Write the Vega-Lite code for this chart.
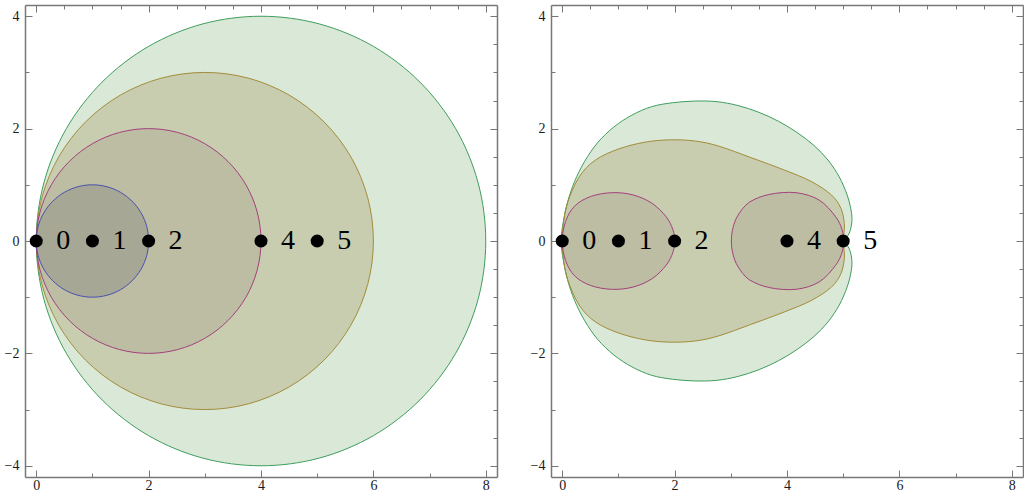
{
  "$schema": "https://vega.github.io/schema/vega-lite/v6.json",
  "padding": {"left": 4, "top": 4, "right": 0, "bottom": 0},
  "autosize": {"type": "pad"},
  "spacing": 32,
  "datasets": {
    "circles": [
      {"s":"c1","i":0,"x":2,"y":0},{"s":"c1","i":1,"x":1.966,"y":0.259},{"s":"c1","i":2,"x":1.866,"y":0.5},{"s":"c1","i":3,"x":1.707,"y":0.707},{"s":"c1","i":4,"x":1.5,"y":0.866},{"s":"c1","i":5,"x":1.259,"y":0.966},{"s":"c1","i":6,"x":1,"y":1},{"s":"c1","i":7,"x":0.741,"y":0.966},{"s":"c1","i":8,"x":0.5,"y":0.866},{"s":"c1","i":9,"x":0.293,"y":0.707},{"s":"c1","i":10,"x":0.134,"y":0.5},{"s":"c1","i":11,"x":0.034,"y":0.259},{"s":"c1","i":12,"x":0,"y":0},{"s":"c1","i":13,"x":0.034,"y":-0.259},{"s":"c1","i":14,"x":0.134,"y":-0.5},{"s":"c1","i":15,"x":0.293,"y":-0.707},{"s":"c1","i":16,"x":0.5,"y":-0.866},{"s":"c1","i":17,"x":0.741,"y":-0.966},{"s":"c1","i":18,"x":1,"y":-1},{"s":"c1","i":19,"x":1.259,"y":-0.966},{"s":"c1","i":20,"x":1.5,"y":-0.866},{"s":"c1","i":21,"x":1.707,"y":-0.707},{"s":"c1","i":22,"x":1.866,"y":-0.5},{"s":"c1","i":23,"x":1.966,"y":-0.259},
      {"s":"c2","i":0,"x":4,"y":0},{"s":"c2","i":1,"x":3.932,"y":0.518},{"s":"c2","i":2,"x":3.732,"y":1},{"s":"c2","i":3,"x":3.414,"y":1.414},{"s":"c2","i":4,"x":3,"y":1.732},{"s":"c2","i":5,"x":2.518,"y":1.932},{"s":"c2","i":6,"x":2,"y":2},{"s":"c2","i":7,"x":1.482,"y":1.932},{"s":"c2","i":8,"x":1,"y":1.732},{"s":"c2","i":9,"x":0.586,"y":1.414},{"s":"c2","i":10,"x":0.268,"y":1},{"s":"c2","i":11,"x":0.068,"y":0.518},{"s":"c2","i":12,"x":0,"y":0},{"s":"c2","i":13,"x":0.068,"y":-0.518},{"s":"c2","i":14,"x":0.268,"y":-1},{"s":"c2","i":15,"x":0.586,"y":-1.414},{"s":"c2","i":16,"x":1,"y":-1.732},{"s":"c2","i":17,"x":1.482,"y":-1.932},{"s":"c2","i":18,"x":2,"y":-2},{"s":"c2","i":19,"x":2.518,"y":-1.932},{"s":"c2","i":20,"x":3,"y":-1.732},{"s":"c2","i":21,"x":3.414,"y":-1.414},{"s":"c2","i":22,"x":3.732,"y":-1},{"s":"c2","i":23,"x":3.932,"y":-0.518},
      {"s":"c3","i":0,"x":6,"y":0},{"s":"c3","i":1,"x":5.898,"y":0.776},{"s":"c3","i":2,"x":5.598,"y":1.5},{"s":"c3","i":3,"x":5.121,"y":2.121},{"s":"c3","i":4,"x":4.5,"y":2.598},{"s":"c3","i":5,"x":3.776,"y":2.898},{"s":"c3","i":6,"x":3,"y":3},{"s":"c3","i":7,"x":2.224,"y":2.898},{"s":"c3","i":8,"x":1.5,"y":2.598},{"s":"c3","i":9,"x":0.879,"y":2.121},{"s":"c3","i":10,"x":0.402,"y":1.5},{"s":"c3","i":11,"x":0.102,"y":0.776},{"s":"c3","i":12,"x":0,"y":0},{"s":"c3","i":13,"x":0.102,"y":-0.776},{"s":"c3","i":14,"x":0.402,"y":-1.5},{"s":"c3","i":15,"x":0.879,"y":-2.121},{"s":"c3","i":16,"x":1.5,"y":-2.598},{"s":"c3","i":17,"x":2.224,"y":-2.898},{"s":"c3","i":18,"x":3,"y":-3},{"s":"c3","i":19,"x":3.776,"y":-2.898},{"s":"c3","i":20,"x":4.5,"y":-2.598},{"s":"c3","i":21,"x":5.121,"y":-2.121},{"s":"c3","i":22,"x":5.598,"y":-1.5},{"s":"c3","i":23,"x":5.898,"y":-0.776},
      {"s":"c4","i":0,"x":8,"y":0},{"s":"c4","i":1,"x":7.864,"y":1.035},{"s":"c4","i":2,"x":7.464,"y":2},{"s":"c4","i":3,"x":6.828,"y":2.828},{"s":"c4","i":4,"x":6,"y":3.464},{"s":"c4","i":5,"x":5.035,"y":3.864},{"s":"c4","i":6,"x":4,"y":4},{"s":"c4","i":7,"x":2.965,"y":3.864},{"s":"c4","i":8,"x":2,"y":3.464},{"s":"c4","i":9,"x":1.172,"y":2.828},{"s":"c4","i":10,"x":0.536,"y":2},{"s":"c4","i":11,"x":0.136,"y":1.035},{"s":"c4","i":12,"x":0,"y":0},{"s":"c4","i":13,"x":0.136,"y":-1.035},{"s":"c4","i":14,"x":0.536,"y":-2},{"s":"c4","i":15,"x":1.172,"y":-2.828},{"s":"c4","i":16,"x":2,"y":-3.464},{"s":"c4","i":17,"x":2.965,"y":-3.864},{"s":"c4","i":18,"x":4,"y":-4},{"s":"c4","i":19,"x":5.035,"y":-3.864},{"s":"c4","i":20,"x":6,"y":-3.464},{"s":"c4","i":21,"x":6.828,"y":-2.828},{"s":"c4","i":22,"x":7.464,"y":-2},{"s":"c4","i":23,"x":7.864,"y":-1.035}
    ],
    "shapes": [
      {"s":"g","i":0,"x":-0.02,"y":0},{"s":"g","i":1,"x":0.02,"y":0.35},{"s":"g","i":2,"x":0.1,"y":0.71},{"s":"g","i":3,"x":0.22,"y":1.06},{"s":"g","i":4,"x":0.4,"y":1.42},{"s":"g","i":5,"x":0.63,"y":1.75},{"s":"g","i":6,"x":0.92,"y":2.03},{"s":"g","i":7,"x":1.24,"y":2.24},{"s":"g","i":8,"x":1.59,"y":2.39},{"s":"g","i":9,"x":1.96,"y":2.46},{"s":"g","i":10,"x":2.35,"y":2.49},{"s":"g","i":11,"x":2.75,"y":2.48},{"s":"g","i":12,"x":3.13,"y":2.41},{"s":"g","i":13,"x":3.5,"y":2.29},{"s":"g","i":14,"x":3.85,"y":2.13},{"s":"g","i":15,"x":4.18,"y":1.93},{"s":"g","i":16,"x":4.48,"y":1.7},{"s":"g","i":17,"x":4.73,"y":1.44},{"s":"g","i":18,"x":4.93,"y":1.14},{"s":"g","i":19,"x":5.07,"y":0.82},{"s":"g","i":20,"x":5.14,"y":0.55},{"s":"g","i":21,"x":5.155,"y":0.35},{"s":"g","i":22,"x":5.12,"y":0.17},{"s":"g","i":23,"x":5.06,"y":0.06},{"s":"g","i":24,"x":5.02,"y":0},{"s":"g","i":25,"x":5.06,"y":-0.06},{"s":"g","i":26,"x":5.12,"y":-0.17},{"s":"g","i":27,"x":5.155,"y":-0.35},{"s":"g","i":28,"x":5.14,"y":-0.55},{"s":"g","i":29,"x":5.07,"y":-0.82},{"s":"g","i":30,"x":4.93,"y":-1.14},{"s":"g","i":31,"x":4.73,"y":-1.44},{"s":"g","i":32,"x":4.48,"y":-1.7},{"s":"g","i":33,"x":4.18,"y":-1.93},{"s":"g","i":34,"x":3.85,"y":-2.13},{"s":"g","i":35,"x":3.5,"y":-2.29},{"s":"g","i":36,"x":3.13,"y":-2.41},{"s":"g","i":37,"x":2.75,"y":-2.48},{"s":"g","i":38,"x":2.35,"y":-2.49},{"s":"g","i":39,"x":1.96,"y":-2.46},{"s":"g","i":40,"x":1.59,"y":-2.39},{"s":"g","i":41,"x":1.24,"y":-2.24},{"s":"g","i":42,"x":0.92,"y":-2.03},{"s":"g","i":43,"x":0.63,"y":-1.75},{"s":"g","i":44,"x":0.4,"y":-1.42},{"s":"g","i":45,"x":0.22,"y":-1.06},{"s":"g","i":46,"x":0.1,"y":-0.71},{"s":"g","i":47,"x":0.02,"y":-0.35},
      {"s":"o","i":0,"x":0,"y":0},{"s":"o","i":1,"x":0.02,"y":0.3},{"s":"o","i":2,"x":0.09,"y":0.67},{"s":"o","i":3,"x":0.3,"y":1.14},{"s":"o","i":4,"x":0.59,"y":1.44},{"s":"o","i":5,"x":1.01,"y":1.64},{"s":"o","i":6,"x":1.48,"y":1.76},{"s":"o","i":7,"x":1.92,"y":1.8},{"s":"o","i":8,"x":2.36,"y":1.78},{"s":"o","i":9,"x":2.78,"y":1.69},{"s":"o","i":10,"x":3.37,"y":1.48},{"s":"o","i":11,"x":3.96,"y":1.26},{"s":"o","i":12,"x":4.43,"y":1.06},{"s":"o","i":13,"x":4.79,"y":0.82},{"s":"o","i":14,"x":4.96,"y":0.58},{"s":"o","i":15,"x":5.02,"y":0.31},{"s":"o","i":16,"x":5.01,"y":0.1},{"s":"o","i":17,"x":5.0,"y":0},{"s":"o","i":18,"x":5.01,"y":-0.1},{"s":"o","i":19,"x":5.02,"y":-0.31},{"s":"o","i":20,"x":4.96,"y":-0.58},{"s":"o","i":21,"x":4.79,"y":-0.82},{"s":"o","i":22,"x":4.43,"y":-1.06},{"s":"o","i":23,"x":3.96,"y":-1.26},{"s":"o","i":24,"x":3.37,"y":-1.48},{"s":"o","i":25,"x":2.78,"y":-1.69},{"s":"o","i":26,"x":2.36,"y":-1.78},{"s":"o","i":27,"x":1.92,"y":-1.8},{"s":"o","i":28,"x":1.48,"y":-1.76},{"s":"o","i":29,"x":1.01,"y":-1.64},{"s":"o","i":30,"x":0.59,"y":-1.44},{"s":"o","i":31,"x":0.3,"y":-1.14},{"s":"o","i":32,"x":0.09,"y":-0.67},{"s":"o","i":33,"x":0.02,"y":-0.3},
      {"s":"pL","i":0,"x":0,"y":0},{"s":"pL","i":1,"x":0.06,"y":0.35},{"s":"pL","i":2,"x":0.22,"y":0.62},{"s":"pL","i":3,"x":0.5,"y":0.79},{"s":"pL","i":4,"x":0.88,"y":0.86},{"s":"pL","i":5,"x":1.26,"y":0.82},{"s":"pL","i":6,"x":1.6,"y":0.67},{"s":"pL","i":7,"x":1.85,"y":0.43},{"s":"pL","i":8,"x":1.97,"y":0.2},{"s":"pL","i":9,"x":2.0,"y":0},{"s":"pL","i":10,"x":1.97,"y":-0.2},{"s":"pL","i":11,"x":1.85,"y":-0.43},{"s":"pL","i":12,"x":1.6,"y":-0.67},{"s":"pL","i":13,"x":1.26,"y":-0.82},{"s":"pL","i":14,"x":0.88,"y":-0.86},{"s":"pL","i":15,"x":0.5,"y":-0.79},{"s":"pL","i":16,"x":0.22,"y":-0.62},{"s":"pL","i":17,"x":0.06,"y":-0.35},
      {"s":"pR","i":0,"x":3.01,"y":0},{"s":"pR","i":1,"x":3.04,"y":0.24},{"s":"pR","i":2,"x":3.13,"y":0.46},{"s":"pR","i":3,"x":3.33,"y":0.69},{"s":"pR","i":4,"x":3.69,"y":0.83},{"s":"pR","i":5,"x":4.16,"y":0.86},{"s":"pR","i":6,"x":4.57,"y":0.73},{"s":"pR","i":7,"x":4.86,"y":0.44},{"s":"pR","i":8,"x":4.98,"y":0.2},{"s":"pR","i":9,"x":5.0,"y":0},{"s":"pR","i":10,"x":4.98,"y":-0.2},{"s":"pR","i":11,"x":4.86,"y":-0.44},{"s":"pR","i":12,"x":4.57,"y":-0.73},{"s":"pR","i":13,"x":4.16,"y":-0.86},{"s":"pR","i":14,"x":3.69,"y":-0.83},{"s":"pR","i":15,"x":3.33,"y":-0.69},{"s":"pR","i":16,"x":3.13,"y":-0.46},{"s":"pR","i":17,"x":3.04,"y":-0.24}
    ],
    "pts": [
      {"x":0,"y":0,"lab":"0"},{"x":1,"y":0,"lab":"1"},{"x":2,"y":0,"lab":"2"},{"x":4,"y":0,"lab":"4"},{"x":5,"y":0,"lab":"5"}
    ]
  },
  "hconcat": [
    {
      "width": 472, "height": 472,
      "resolve": {"axis": {"x": "independent", "y": "independent"}},
      "layer": [
        {"data": {"name": "circles"}, "transform": [{"filter": "datum.s == 'c4'"}],
         "mark": {"type": "line", "interpolate": "cardinal-closed", "stroke": "#3f9e5c", "strokeWidth": 1, "fill": "#468c3c", "fillOpacity": 0.2},
         "encoding": {
           "x": {"field": "x", "type": "quantitative", "scale": {"domain": [-0.2, 8.2], "nice": false, "zero": false},
                 "axis": {"orient": "bottom", "title": null, "format": "d", "values": [0,0.5,1,1.5,2,2.5,3,3.5,4,4.5,5,5.5,6,6.5,7,7.5,8], "labelExpr": "datum.value % 2 == 0 ? datum.label : ''", "tickSize": {"condition": {"test": "datum.value % 2 == 0", "value": -7}, "value": -4}, "labelPadding": 8}},
           "y": {"field": "y", "type": "quantitative", "scale": {"domain": [-4.2, 4.2], "nice": false, "zero": false},
                 "axis": {"orient": "left", "title": null, "format": "d", "values": [-4,-3.5,-3,-2.5,-2,-1.5,-1,-0.5,0,0.5,1,1.5,2,2.5,3,3.5,4], "labelExpr": "datum.value % 2 == 0 ? datum.label : ''", "tickSize": {"condition": {"test": "datum.value % 2 == 0", "value": -7}, "value": -4}, "labelPadding": 13}},
           "order": {"field": "i", "type": "quantitative"}
         }},
        {"data": {"name": "circles"}, "transform": [{"filter": "datum.s == 'c3'"}],
         "mark": {"type": "line", "interpolate": "cardinal-closed", "stroke": "#a38c3a", "strokeWidth": 1, "fill": "#80660f", "fillOpacity": 0.2},
         "encoding": {"x": {"field": "x", "type": "quantitative", "axis": null}, "y": {"field": "y", "type": "quantitative", "axis": null}, "order": {"field": "i", "type": "quantitative"}}},
        {"data": {"name": "circles"}, "transform": [{"filter": "datum.s == 'c2'"}],
         "mark": {"type": "line", "interpolate": "cardinal-closed", "stroke": "#a3407e", "strokeWidth": 1, "fill": "#8c7e6f", "fillOpacity": 0.2},
         "encoding": {"x": {"field": "x", "type": "quantitative", "axis": null}, "y": {"field": "y", "type": "quantitative", "axis": null}, "order": {"field": "i", "type": "quantitative"}}},
        {"data": {"name": "circles"}, "transform": [{"filter": "datum.s == 'c1'"}],
         "mark": {"type": "line", "interpolate": "cardinal-closed", "stroke": "#4a50b0", "strokeWidth": 1, "fill": "#525264", "fillOpacity": 0.2},
         "encoding": {"x": {"field": "x", "type": "quantitative", "axis": null}, "y": {"field": "y", "type": "quantitative", "axis": null}, "order": {"field": "i", "type": "quantitative"}}},
        {"data": {"name": "pts"},
         "mark": {"type": "circle", "size": 170, "color": "black", "opacity": 1},
         "encoding": {
           "x": {"field": "x", "type": "quantitative", "axis": {"orient": "top", "title": null, "labels": false, "values": [0,0.5,1,1.5,2,2.5,3,3.5,4,4.5,5,5.5,6,6.5,7,7.5,8], "tickSize": {"condition": {"test": "datum.value % 2 == 0", "value": -7}, "value": -4}}},
           "y": {"field": "y", "type": "quantitative", "axis": {"orient": "right", "title": null, "labels": false, "values": [-4,-3.5,-3,-2.5,-2,-1.5,-1,-0.5,0,0.5,1,1.5,2,2.5,3,3.5,4], "tickSize": {"condition": {"test": "datum.value % 2 == 0", "value": -7}, "value": -4}}}
         }},
        {"data": {"name": "pts"},
         "mark": {"type": "text", "font": "Liberation Serif", "fontSize": 28, "align": "center", "baseline": "middle", "dx": 27, "color": "black"},
         "encoding": {"x": {"field": "x", "type": "quantitative", "axis": null}, "y": {"field": "y", "type": "quantitative", "axis": null}, "text": {"field": "lab"}}}
      ]
    },
    {
      "width": 472, "height": 472,
      "resolve": {"axis": {"x": "independent", "y": "independent"}},
      "layer": [
        {"data": {"name": "shapes"}, "transform": [{"filter": "datum.s == 'g'"}],
         "mark": {"type": "line", "interpolate": "cardinal-closed", "stroke": "#3f9e5c", "strokeWidth": 1, "fill": "#468c3c", "fillOpacity": 0.2},
         "encoding": {
           "x": {"field": "x", "type": "quantitative", "scale": {"domain": [-0.2, 8.2], "nice": false, "zero": false},
                 "axis": {"orient": "bottom", "title": null, "format": "d", "values": [0,0.5,1,1.5,2,2.5,3,3.5,4,4.5,5,5.5,6,6.5,7,7.5,8], "labelExpr": "datum.value % 2 == 0 ? datum.label : ''", "tickSize": {"condition": {"test": "datum.value % 2 == 0", "value": -7}, "value": -4}, "labelPadding": 8}},
           "y": {"field": "y", "type": "quantitative", "scale": {"domain": [-4.2, 4.2], "nice": false, "zero": false},
                 "axis": {"orient": "left", "title": null, "format": "d", "values": [-4,-3.5,-3,-2.5,-2,-1.5,-1,-0.5,0,0.5,1,1.5,2,2.5,3,3.5,4], "labelExpr": "datum.value % 2 == 0 ? datum.label : ''", "tickSize": {"condition": {"test": "datum.value % 2 == 0", "value": -7}, "value": -4}, "labelPadding": 13}},
           "order": {"field": "i", "type": "quantitative"}
         }},
        {"data": {"name": "shapes"}, "transform": [{"filter": "datum.s == 'o'"}],
         "mark": {"type": "line", "interpolate": "cardinal-closed", "stroke": "#a38c3a", "strokeWidth": 1, "fill": "#80660f", "fillOpacity": 0.2},
         "encoding": {"x": {"field": "x", "type": "quantitative", "axis": null}, "y": {"field": "y", "type": "quantitative", "axis": null}, "order": {"field": "i", "type": "quantitative"}}},
        {"data": {"name": "shapes"}, "transform": [{"filter": "datum.s == 'pL' || datum.s == 'pR'"}],
         "mark": {"type": "line", "interpolate": "cardinal-closed", "stroke": "#a3407e", "strokeWidth": 1, "fill": "#8c7e6f", "fillOpacity": 0.2},
         "encoding": {"x": {"field": "x", "type": "quantitative", "axis": null}, "y": {"field": "y", "type": "quantitative", "axis": null}, "detail": {"field": "s"}, "order": {"field": "i", "type": "quantitative"}}},
        {"data": {"name": "pts"},
         "mark": {"type": "circle", "size": 170, "color": "black", "opacity": 1},
         "encoding": {
           "x": {"field": "x", "type": "quantitative", "axis": {"orient": "top", "title": null, "labels": false, "values": [0,0.5,1,1.5,2,2.5,3,3.5,4,4.5,5,5.5,6,6.5,7,7.5,8], "tickSize": {"condition": {"test": "datum.value % 2 == 0", "value": -7}, "value": -4}}},
           "y": {"field": "y", "type": "quantitative", "axis": {"orient": "right", "title": null, "labels": false, "values": [-4,-3.5,-3,-2.5,-2,-1.5,-1,-0.5,0,0.5,1,1.5,2,2.5,3,3.5,4], "tickSize": {"condition": {"test": "datum.value % 2 == 0", "value": -7}, "value": -4}}}
         }},
        {"data": {"name": "pts"},
         "mark": {"type": "text", "font": "Liberation Serif", "fontSize": 28, "align": "center", "baseline": "middle", "dx": 27, "color": "black"},
         "encoding": {"x": {"field": "x", "type": "quantitative", "axis": null}, "y": {"field": "y", "type": "quantitative", "axis": null}, "text": {"field": "lab"}}}
      ]
    }
  ],
  "config": {
    "view": {"stroke": null},
    "axis": {"grid": false, "domainColor": "#777777", "domainWidth": 1.5, "tickColor": "#777777", "tickWidth": 1, "labelFont": "Liberation Serif", "labelFontSize": 14, "labelColor": "#1a1a1a", "labelOverlap": false, "labelBound": false, "labelFlush": false}
  }
}
